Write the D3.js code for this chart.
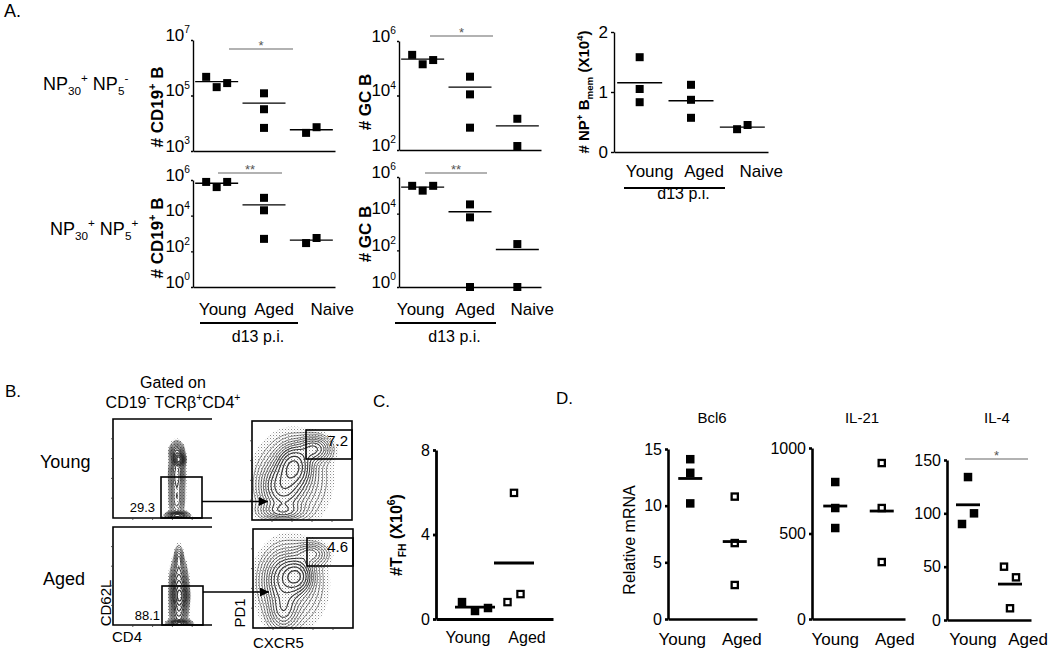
<!DOCTYPE html>
<html><head><meta charset="utf-8">
<script src="https://cdn.jsdelivr.net/npm/d3@7"></script>
<style>
body{margin:0;background:#fff;}
svg{font-family:"Liberation Sans",Arial,sans-serif;}
</style></head><body>
<svg id="c" width="1050" height="652"></svg>
<script>
// ================= DATA =================
const groupsA = ["Young", "Aged", "Naive"];
const groupsB = ["Young", "Aged"];

// A, NP30+ NP5-: # CD19+ B
const cd19NegValues = [[4.7e5, 2.0e5, 2.8e5], [1.2e5, 3.2e4, 6.8e3], [4.5e3, 7.2e3]];
const cd19NegTicks = [1e3, 1e5, 1e7];
// A, NP30+ NP5-: # GC B
const gcNegValues = [[3.1e5, 1.4e5, 2.0e5], [4.9e4, 1.1e4, 660], [1.4e3, 140]];
const gcNegTicks = [1e2, 1e4, 1e6];
// A, NP30+ NP5+: # CD19+ B
const cd19PosValues = [[7.8e5, 4.0e5, 7.8e5], [1.0e5, 2.0e4, 500], [290, 560]];
const cd19PosTicks = [1, 1e2, 1e4, 1e6];
// A, NP30+ NP5+: # GC B
const gcPosValues = [[3.3e5, 1.8e5, 3.3e5], [3.2e4, 6.3e3, 1], [220, 1]];
const gcPosTicks = [1, 1e2, 1e4, 1e6];
// A: # NP+ Bmem (x10^4)
const bmemValues = [[1.58, 1.05, 0.83], [1.12, 0.87, 0.57], [0.38, 0.45]];
const bmemTicks = [0, 1, 2];
// C: # TFH (x10^6)
const tfhValues = [[0.8, 0.38, 0.52], [0.8, 5.97, 1.18]];
const tfhTicks = [0, 4, 8];
// D: relative mRNA
const bcl6Values = [[14.1, 12.9, 10.2], [10.8, 6.7, 3.0]];
const bcl6Ticks = [0, 5, 10, 15];
const il21Values = [[801, 649, 532], [912, 649, 333]];
const il21Ticks = [0, 500, 1000];
const il4Values = [[90, 134, 100], [50, 11, 40]];
const il4Ticks = [0, 50, 100, 150];
// B: gate frequencies
const gateLabels = ["29.3", "88.1", "7.2", "4.6"];
// B: flow-plot density populations [cx, cy, sx, sy, weight] in plot units
const flowYoungCD62L = [[0.665,0.41,0.028,0.035,1.0],[0.645,0.33,0.035,0.05,0.45],[0.645,0.56,0.04,0.12,0.42],[0.645,0.82,0.038,0.1,0.32],[0.65,0.975,0.055,0.02,0.9]];
const flowAgedCD62L = [[0.665,0.32,0.022,0.07,0.22],[0.665,0.56,0.042,0.12,0.5],[0.675,0.7,0.04,0.07,0.8],[0.665,0.86,0.042,0.08,0.45],[0.67,0.975,0.055,0.02,0.9]];
const flowYoungPD1 = [[0.42,0.45,0.09,0.11,1.0],[0.3,0.66,0.11,0.13,0.6],[0.62,0.28,0.09,0.07,0.5],[0.3,0.9,0.12,0.05,0.35],[0.4,0.58,0.18,0.22,0.3]];
const flowAgedPD1 = [[0.44,0.47,0.08,0.09,1.0],[0.3,0.5,0.1,0.14,0.55],[0.3,0.82,0.08,0.11,0.4],[0.58,0.25,0.09,0.06,0.35],[0.38,0.55,0.17,0.22,0.3]];

// ================= HELPERS =================
const FONT = "'Liberation Sans', Arial, sans-serif";
const svg = d3.select("#c");

function rich(t, parts, size, small) {
  const s2 = small || size * 0.65;
  let shift = 0;
  parts.forEach(([s, k]) => {
    const target = k === "sup" ? -0.42 * size : k === "sub" ? 0.28 * size : 0;
    t.append("tspan").attr("dy", target - shift).attr("font-size", k === "n" ? size : s2).text(s);
    shift = target;
  });
  return t;
}
function txt(x, y, s, size, opts = {}) {
  const t = svg.append("text").attr("x", x).attr("y", y).attr("font-size", size)
    .attr("font-family", FONT).attr("text-anchor", opts.anchor || "start")
    .attr("fill", opts.fill || "#000");
  if (opts.bold) t.attr("font-weight", "bold");
  if (Array.isArray(s)) rich(t, s, size, opts.small); else t.text(s);
  return t;
}
function vtxt(x, y, parts, size, opts = {}) {
  const t = svg.append("text").attr("transform", `translate(${x},${y}) rotate(-90)`)
    .attr("font-size", size).attr("font-family", FONT).attr("text-anchor", "middle");
  if (opts.bold) t.attr("font-weight", "bold");
  rich(t, parts, size, opts.small);
  return t;
}
function jitterOffsets(ys, thr) {
  const idx = ys.map((_, i) => i).sort((a, b) => ys[a] - ys[b]);
  const clusters = []; let cur = [idx[0]];
  for (let k = 1; k < idx.length; k++) {
    if (ys[idx[k]] - ys[idx[k - 1]] < thr) cur.push(idx[k]); else { clusters.push(cur); cur = [idx[k]]; }
  }
  clusters.push(cur);
  const off = ys.map(() => 0);
  clusters.forEach(c => { c.sort((a, b) => a - b); c.forEach((i, j) => off[i] = j - (c.length - 1) / 2); });
  return off;
}

function drawScatter(o) {
  const g = svg.append("g");
  const x = d3.scalePoint().domain(o.groups).range(o.xRange).padding(o.pad);
  const y = o.y;
  const yb = y.range()[0];
  const ax = d3.axisLeft(y).tickValues(o.ticks).tickSize(o.tickLen).tickSizeOuter(0).tickPadding(o.tickPad);
  ax.tickFormat(o.log ? () => "" : d3.format("d"));
  const ga = g.append("g").attr("transform", `translate(${o.xRange[0]},0)`).call(ax)
    .attr("font-family", FONT).attr("font-size", o.tickFont);
  ga.select(".domain").attr("stroke-width", o.axisW);
  ga.selectAll(".tick line").attr("stroke-width", o.axisW);
  ga.selectAll(".tick text").attr("fill", "#000");
  if (o.log) ga.selectAll(".tick text").each(function (d) {
    const t = d3.select(this); t.text("");
    rich(t, [["10", "n"], [String(Math.round(Math.log10(d))), "sup"]], o.tickFont, o.tickFont * 0.6);
  });
  const gx = g.append("g").attr("transform", `translate(0,${yb})`)
    .call(d3.axisBottom(x).tickSize(0).tickSizeOuter(0).tickFormat(""));
  gx.select(".domain").attr("stroke-width", o.axisW);
  gx.selectAll(".tick").remove();

  o.values.forEach((vals, gi) => {
    const cx = x(o.groups[gi]);
    const ys = vals.map(v => y(v));
    const offs = jitterOffsets(ys, o.overlap);
    const open = o.open && o.open[gi];
    const m = o.mark;
    const sw = o.openW || 2.2;
    g.selectAll(null).data(vals).join("rect")
      .attr("x", (d, i) => cx + offs[i] * o.spread - (open ? (m - sw) / 2 : m / 2))
      .attr("y", (d, i) => ys[i] - (open ? (m - sw) / 2 : m / 2))
      .attr("width", open ? m - sw : m).attr("height", open ? m - sw : m)
      .attr("fill", open ? "#fff" : "#000")
      .attr("stroke", open ? "#000" : "none").attr("stroke-width", open ? sw : 0);
    const mean = d3.mean(vals);
    g.append("line").attr("x1", cx - o.half).attr("x2", cx + o.half)
      .attr("y1", y(mean)).attr("y2", y(mean)).attr("stroke", "#000").attr("stroke-width", o.meanW);
    if (o.labelY) {
      g.append("text").attr("x", cx + o.labelDx[gi]).attr("y", o.labelY).attr("text-anchor", "middle")
        .attr("font-size", o.labelFont).attr("font-family", FONT).text(o.groups[gi]);
    }
  });
  return x;
}

function sigBar(x1, x2, y, stars) {
  svg.append("line").attr("x1", x1).attr("x2", x2).attr("y1", y).attr("y2", y)
    .attr("stroke", "#666").attr("stroke-width", 1.1);
  txt((x1 + x2) / 2, y + 1, stars, 13, { anchor: "middle", fill: "#555" });
}
function underline(x1, x2, y, label, ly) {
  svg.append("line").attr("x1", x1).attr("x2", x2).attr("y1", y).attr("y2", y)
    .attr("stroke", "#000").attr("stroke-width", 2);
  txt((x1 + x2) / 2 + 9, ly, label, 16, { anchor: "middle" });
}

// ================= PANEL A =================
txt(4, 17, "A.", 18);
txt(43, 90, [["NP", "n"], ["30", "sub"], ["+", "sup"], [" NP", "n"], ["5", "sub"], ["-", "sup"]], 18);
txt(50, 235, [["NP", "n"], ["30", "sub"], ["+", "sup"], [" NP", "n"], ["5", "sub"], ["+", "sup"]], 18);

const baseA = { groups: groupsA, pad: 0.5, log: true, tickLen: 2, tickPad: 1, tickFont: 17,
  axisW: 1.4, meanW: 1.4, mark: 8, spread: 10.5, half: 21.5, overlap: 12, labelFont: 17 };

drawScatter(Object.assign({}, baseA, { xRange: [193, 335],
  y: d3.scaleLog().domain([1e3, 1e7]).range([151, 40]), values: cd19NegValues, ticks: cd19NegTicks }));
drawScatter(Object.assign({}, baseA, { xRange: [399, 541],
  y: d3.scaleLog().domain([1e2, 1e6]).range([150, 41]), values: gcNegValues, ticks: gcNegTicks }));
drawScatter(Object.assign({}, baseA, { xRange: [193, 335],
  y: d3.scaleLog().domain([1, 1e6]).range([287, 180]), values: cd19PosValues, ticks: cd19PosTicks,
  labelY: 315, labelDx: [6, 10, 21] }));
drawScatter(Object.assign({}, baseA, { xRange: [399, 541],
  y: d3.scaleLog().domain([1, 1e6]).range([287, 177]), values: gcPosValues, ticks: gcPosTicks,
  labelY: 315, labelDx: [-2, 5, 15] }));
drawScatter(Object.assign({}, baseA, { xRange: [614, 768], log: false, tickLen: 3, tickPad: 3,
  y: d3.scaleLinear().domain([0, 2]).range([152, 32]), values: bmemValues, ticks: bmemTicks,
  labelY: 177, labelDx: [10, 13, 19], half: 22.5 }));

vtxt(163, 107, [["# CD19", "n"], ["+", "sup"], [" B", "n"]], 17, { bold: true });
vtxt(163, 238, [["# CD19", "n"], ["+", "sup"], [" B", "n"]], 17, { bold: true });
vtxt(371, 102, [["# GC B", "n"]], 17, { bold: true });
vtxt(371, 234, [["# GC B", "n"]], 17, { bold: true });
vtxt(589, 92, [["# NP", "n"], ["+", "sup"], [" B", "n"], ["mem", "sub"], [" (X10", "n"], ["4", "sup"], [")", "n"]], 15, { bold: true });

sigBar(229, 293, 49, "*");
sigBar(430, 493, 36, "*");
sigBar(218, 282, 173, "**");
sigBar(425, 487, 173, "**");

underline(200, 298, 323, "d13 p.i.", 342);
underline(395, 496, 323, "d13 p.i.", 342);
underline(624, 725, 188, "d13 p.i.", 199);

// ================= PANEL B =================
txt(5, 397, "B.", 17);
txt(173, 388, "Gated on", 16, { anchor: "middle" });
txt(173, 408, [["CD19", "n"], ["-", "sup"], [" TCR\u03b2", "n"], ["+", "sup"], ["CD4", "n"], ["+", "sup"]], 16, { anchor: "middle" });
txt(40, 468, "Young", 18);
txt(43, 585, "Aged", 18);

const defs = svg.append("defs");
defs.append("marker").attr("id", "arr").attr("viewBox", "0 0 10 10").attr("refX", 10).attr("refY", 5)
  .attr("markerUnits", "userSpaceOnUse").attr("markerWidth", 12).attr("markerHeight", 9).attr("orient", "auto")
  .append("path").attr("d", "M0,0L10,5L0,10z").attr("fill", "#000");
const pat = defs.append("pattern").attr("id", "speck").attr("patternUnits", "userSpaceOnUse")
  .attr("width", 3).attr("height", 3);
pat.append("rect").attr("x", 0).attr("y", 0).attr("width", 1).attr("height", 1).attr("fill", "#8a8a8a");
pat.append("rect").attr("x", 1.5).attr("y", 1.5).attr("width", 0.8).attr("height", 0.8).attr("fill", "#b0b0b0");

function flowPlot(id, x0, y0, w, h, blobs, full) {
  defs.append("clipPath").attr("id", id).append("rect").attr("x", x0).attr("y", y0).attr("width", w).attr("height", h);
  const n = 100;
  const vals = new Float64Array(n * n);
  for (let j = 0; j < n; j++) for (let i = 0; i < n; i++) {
    const u = (i + 0.5) / n, v = (j + 0.5) / n;
    let s = 0;
    blobs.forEach(([bx, by, sx, sy, bw]) => {
      s += bw * Math.exp(-((u - bx) ** 2 / (2 * sx * sx) + (v - by) ** 2 / (2 * sy * sy)));
    });
    vals[j * n + i] = s;
  }
  const mx = d3.max(vals);
  const levels = [0.85, 0.66, 0.5, 0.38, 0.29, 0.22, 0.165, 0.12, 0.085, 0.055, 0.035].map(f => f * mx);
  const gen = d3.contours().size([n, n]);
  const path = d3.geoPath(d3.geoIdentity().scale(w / n).translate([x0, y0]));
  const g = svg.append("g").attr("clip-path", `url(#${id})`);
  g.append("path").datum(gen.contour(vals, 0.014 * mx)).attr("d", path).attr("fill", "url(#speck)").attr("stroke", "none");
  g.selectAll(null).data(gen.thresholds(levels)(vals)).join("path").attr("d", path)
    .attr("fill", "none").attr("stroke", "#1a1a1a")
    .attr("stroke-width", (d, i) => 0.6 + i * 0.07).attr("stroke-opacity", 0.85);
  const fr = svg.append("g").attr("stroke", "#000").attr("stroke-width", 1.6).attr("fill", "none");
  if (full) fr.append("rect").attr("x", x0).attr("y", y0).attr("width", w).attr("height", h);
  else fr.append("path").attr("d", `M${x0 + w},${y0}H${x0}V${y0 + h}H${x0 + w}`);
  const tk = svg.append("g").attr("stroke", "#333").attr("stroke-width", 0.8);
  d3.range(1, 5).forEach(k => {
    tk.append("line").attr("x1", x0 - 2).attr("x2", x0).attr("y1", y0 + h * k / 5).attr("y2", y0 + h * k / 5);
    tk.append("line").attr("y1", y0 + h).attr("y2", y0 + h + 2).attr("x1", x0 + w * k / 5).attr("x2", x0 + w * k / 5);
  });
}
function gate(x1, y1, x2, y2) {
  svg.append("rect").attr("x", x1).attr("y", y1).attr("width", x2 - x1).attr("height", y2 - y1)
    .attr("fill", "none").attr("stroke", "#000").attr("stroke-width", 1.6);
}
function arrow(x1, x2, y) {
  svg.append("line").attr("x1", x1).attr("x2", x2).attr("y1", y).attr("y2", y)
    .attr("stroke", "#000").attr("stroke-width", 1.6).attr("marker-end", "url(#arr)");
}

flowPlot("f1", 113, 419, 99, 99, flowYoungCD62L, false);
flowPlot("f2", 113, 527, 99, 98, flowAgedCD62L, false);
flowPlot("f3", 252, 421, 100, 99, flowYoungPD1, true);
flowPlot("f4", 253, 529, 100, 99, flowAgedPD1, true);
gate(161, 477, 202, 518);
gate(162, 586, 203, 625);
gate(306, 430, 352, 459);
gate(307, 538, 353, 566);
arrow(202, 268, 501.5);
arrow(203, 269, 592);
txt(155, 512, gateLabels[0], 13, { anchor: "end" });
txt(160, 620, gateLabels[1], 13, { anchor: "end" });
txt(348, 446, gateLabels[2], 15, { anchor: "end" });
txt(348, 552, gateLabels[3], 15, { anchor: "end" });
vtxt(110.5, 603, [["CD62L", "n"]], 15);
txt(112, 642, "CD4", 15);
vtxt(245, 613, [["PD1", "n"]], 15);
txt(253, 648, "CXCR5", 15);

// ================= PANEL C =================
txt(373, 407, "C.", 17);
drawScatter({ groups: groupsB, xRange: [436, 553], pad: 1, log: false, tickLen: 3, tickPad: 3, tickFont: 16,
  y: d3.scaleLinear().domain([0, 8]).range([619, 450]), values: tfhValues, ticks: tfhTicks,
  axisW: 2.8, meanW: 2.8, mark: 8.5, spread: 13, half: 20, overlap: 12, open: [false, true], openW: 2.2,
  labelY: 643, labelDx: [-7, 13], labelFont: 16 });
vtxt(402, 535, [["#T", "n"], ["FH", "sub"], ["  (X10", "n"], ["6", "sup"], [")", "n"]], 16, { bold: true });

// ================= PANEL D =================
txt(556, 404, "D.", 17);
const baseD = { groups: groupsB, pad: 0.5, log: false, tickLen: 3, tickPad: 3, tickFont: 16,
  axisW: 2.6, meanW: 2.8, mark: 8.5, spread: 12, half: 12, overlap: 12, open: [false, true], openW: 2.3,
  labelY: 645, labelFont: 17 };
drawScatter(Object.assign({}, baseD, { xRange: [668, 757],
  y: d3.scaleLinear().domain([0, 15]).range([619, 449]), values: bcl6Values, ticks: bcl6Ticks, labelDx: [-8, 7] }));
drawScatter(Object.assign({}, baseD, { xRange: [812, 905],
  y: d3.scaleLinear().domain([0, 1000]).range([619, 448]), values: il21Values, ticks: il21Ticks, labelDx: [0, 13] }));
drawScatter(Object.assign({}, baseD, { xRange: [947, 1031],
  y: d3.scaleLinear().domain([0, 150]).range([620, 460]), values: il4Values, ticks: il4Ticks, labelDx: [5, 18] }));
txt(712, 423, "Bcl6", 15, { anchor: "middle" });
txt(862, 423, "IL-21", 15, { anchor: "middle" });
txt(997, 423, "IL-4", 15, { anchor: "middle" });
vtxt(635, 540, [["Relative mRNA", "n"]], 16);
sigBar(965, 1028, 459, "*");
</script>
</body></html>
